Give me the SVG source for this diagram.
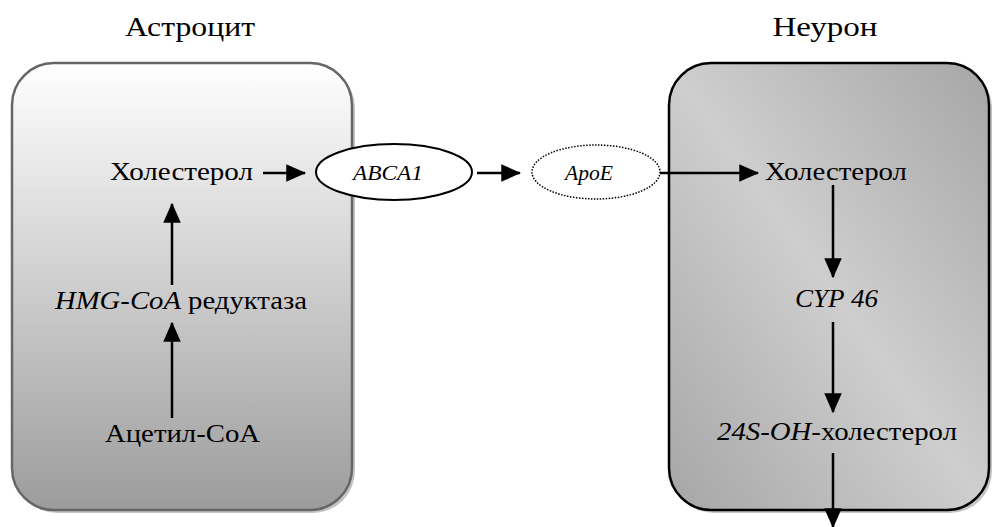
<svg xmlns="http://www.w3.org/2000/svg" width="994" height="527" viewBox="0 0 994 527">
<style>
.t{font-family:"Liberation Serif","DejaVu Serif",serif;fill:#000}
.b{font-size:26px}
.h{font-size:28px}
.s{font-size:21px;font-style:italic}
.i{font-style:italic}
.c{stroke:#000;stroke-width:2.5;fill:none}
.sh{fill:#c4c4c4}
</style>
<defs>
<linearGradient id="gL" x1="0" y1="0" x2="0" y2="1">
<stop offset="0" stop-color="#ffffff"/>
<stop offset="1" stop-color="#9c9c9c"/>
</linearGradient>
<linearGradient id="gR" x1="1" y1="0" x2="0" y2="1">
<stop offset="0" stop-color="#a6a6a6"/>
<stop offset="0.5" stop-color="#cecece"/>
<stop offset="1" stop-color="#a6a6a6"/>
</linearGradient>
<marker id="ah" markerWidth="8" markerHeight="7" refX="7.5" refY="3.5" orient="auto" markerUnits="strokeWidth">
<path d="M0,0 L8,3.5 L0,7 Z" fill="#000"/>
</marker>
</defs>
<g id="astrocyte">
<rect class="sh" x="15" y="66" width="340" height="447" rx="42"/>
<rect x="12" y="63" width="340" height="447" rx="42" fill="url(#gL)" stroke="#666" stroke-width="2.5"/>
</g>
<g id="neuron">
<rect class="sh" x="672" y="66" width="320" height="447" rx="42"/>
<rect x="669" y="63" width="320" height="447" rx="42" fill="url(#gR)" stroke="#000" stroke-width="2.5"/>
</g>
<g id="title-astrocyte"><text class="t h" x="190" y="36" text-anchor="middle" textLength="130" lengthAdjust="spacingAndGlyphs">Астроцит</text></g>
<g id="title-neuron"><text class="t h" x="825" y="36" text-anchor="middle" textLength="105" lengthAdjust="spacingAndGlyphs">Неурон</text></g>
<g id="connectors">
<line class="c" x1="263" y1="173" x2="305" y2="173" marker-end="url(#ah)"/>
<line class="c" x1="477" y1="173" x2="520" y2="173" marker-end="url(#ah)"/>
<line class="c" x1="660" y1="173" x2="758" y2="173" marker-end="url(#ah)"/>
<line class="c" x1="172" y1="285" x2="172" y2="204" marker-end="url(#ah)"/>
<line class="c" x1="172" y1="418" x2="172" y2="323" marker-end="url(#ah)"/>
<line class="c" x1="833" y1="185" x2="833" y2="277" marker-end="url(#ah)"/>
<line class="c" x1="833" y1="322" x2="833" y2="412" marker-end="url(#ah)"/>
<line class="c" x1="833" y1="453" x2="833" y2="527" marker-end="url(#ah)"/>
</g>
<g id="chol-left"><text class="t b" x="181.5" y="180" text-anchor="middle" textLength="143" lengthAdjust="spacingAndGlyphs">Холестерол</text></g>
<g id="hmg"><text class="t b" x="181" y="309" text-anchor="middle" textLength="252" lengthAdjust="spacingAndGlyphs"><tspan class="i">HMG-CoA</tspan> редуктаза</text></g>
<g id="acetyl"><text class="t b" x="182.5" y="442" text-anchor="middle" textLength="155" lengthAdjust="spacingAndGlyphs">Ацетил-CoA</text></g>
<g id="abca1">
<ellipse cx="394" cy="172" rx="78" ry="28" fill="#fff" stroke="#000" stroke-width="2"/>
<text class="t s" x="388" y="180" text-anchor="middle" textLength="70" lengthAdjust="spacingAndGlyphs">ABCA1</text>
</g>
<g id="apoe">
<ellipse cx="596" cy="172" rx="64" ry="27" fill="#fff" stroke="#000" stroke-width="1.5" stroke-dasharray="1.5 1.5"/>
<text class="t s" x="589" y="180" text-anchor="middle" textLength="48" lengthAdjust="spacingAndGlyphs">ApoE</text>
</g>
<g id="chol-right"><text class="t b" x="836" y="180" text-anchor="middle" textLength="142" lengthAdjust="spacingAndGlyphs">Холестерол</text></g>
<g id="cyp"><text class="t b i" x="836.5" y="307" text-anchor="middle" textLength="83" lengthAdjust="spacingAndGlyphs">CYP 46</text></g>
<g id="oh"><text class="t b" x="837" y="440" text-anchor="middle" textLength="240" lengthAdjust="spacingAndGlyphs"><tspan class="i">24S-OH</tspan>-холестерол</text></g>
</svg>
